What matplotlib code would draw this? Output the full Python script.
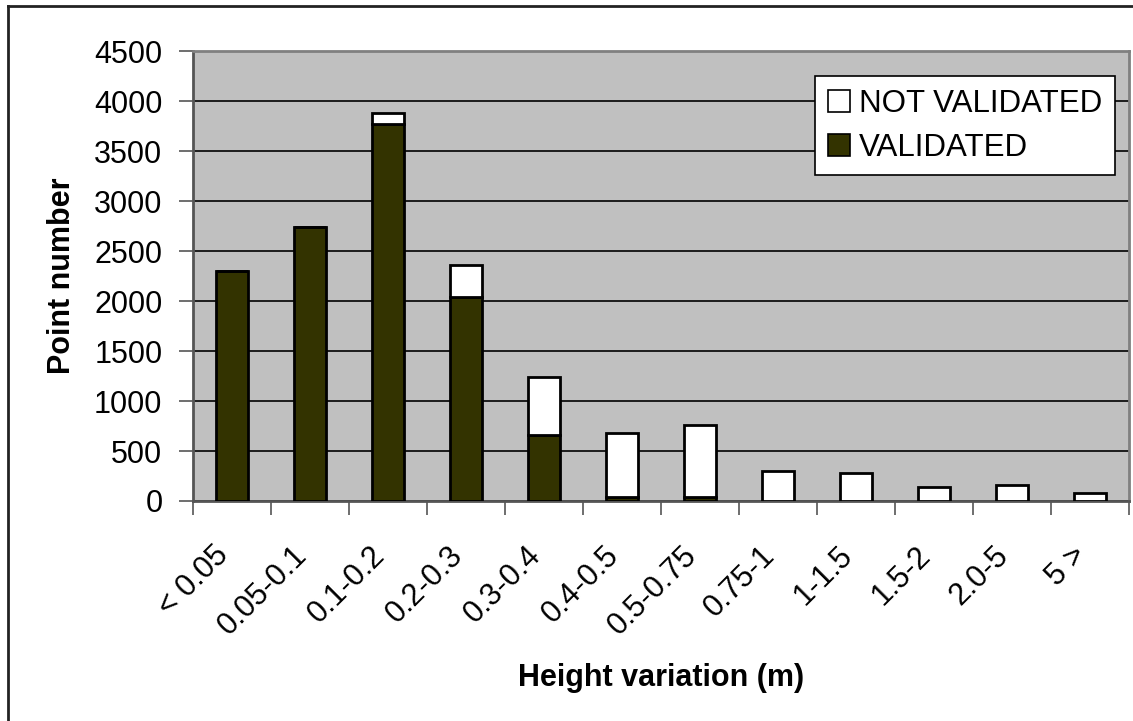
import numpy as np
import matplotlib.pyplot as plt
from matplotlib.lines import Line2D
from matplotlib.transforms import ScaledTranslation

plt.rcParams['font.family'] = ['Liberation Sans', 'DejaVu Sans']

categories = ['< 0.05', '0.05-0.1', '0.1-0.2', '0.2-0.3', '0.3-0.4', '0.4-0.5',
              '0.5-0.75', '0.75-1', '1-1.5', '1.5-2', '2.0-5', '5 >']
validated = [2300, 2740, 3775, 2040, 660, 40, 40, 0, 0, 0, 0, 0]
not_validated = [0, 0, 105, 320, 580, 640, 720, 300, 280, 140, 160, 80]
y_ticks = [0, 500, 1000, 1500, 2000, 2500, 3000, 3500, 4000, 4500]

fig = plt.figure(figsize=(11.33, 7.21), dpi=100)
ax = fig.add_axes([193 / 1133, 1 - 501 / 721, 936 / 1133, 450 / 721])
ax.set_facecolor('#c0c0c0')

x = np.arange(len(categories))
ax.bar(x, validated, width=0.42, color='#333300', edgecolor='black', linewidth=2,
       label='VALIDATED', zorder=3)
ax.bar(x, not_validated, width=0.42, bottom=validated, color='white', edgecolor='black',
       linewidth=2, label='NOT VALIDATED', zorder=3)

ax.set_xlim(-0.5, len(categories) - 0.5)
ax.set_ylim(0, 4500)
ax.set_yticks(y_ticks)
ax.yaxis.grid(True, color='black', linewidth=1.2, zorder=1)
ax.set_axisbelow(True)

# category boundary ticks, labels placed separately
ax.set_xticks(np.arange(len(categories) + 1) - 0.5)
ax.set_xticklabels([])
ax.set_xticks(x, minor=True)
ax.set_xticklabels(categories, minor=True, rotation=45, ha='right', va='center',
                   rotation_mode='anchor', fontsize=22)
ax.tick_params(axis='x', which='minor', length=0, pad=0)
offset = ScaledTranslation(-8 / 100, -50 / 100, fig.dpi_scale_trans)
for lab in ax.get_xticklabels(minor=True):
    lab.set_transform(lab.get_transform() + offset)

ax.tick_params(axis='x', which='major', direction='out', length=10, width=1.2, color='#555555')
ax.tick_params(axis='y', direction='out', length=10, width=1.2, color='#555555',
               labelsize=22, pad=12)

for s in ['top', 'right']:
    ax.spines[s].set_color('#808080')
    ax.spines[s].set_linewidth(2)
ax.spines['left'].set_color('#555555')
ax.spines['left'].set_linewidth(2)
ax.spines['bottom'].set_color('#555555')
ax.spines['bottom'].set_linewidth(2)

ax.set_xlabel('Height variation (m)', fontsize=22, fontweight='bold')
ax.xaxis.set_label_coords(0.5, -0.36)
ax.set_ylabel('Point number', fontsize=22, fontweight='bold')
ax.yaxis.set_label_coords(-0.124, 0.5)

handles, labels = ax.get_legend_handles_labels()
leg = ax.legend(handles[::-1], labels[::-1], loc='upper right',
                bbox_to_anchor=(0.985, 0.944), borderaxespad=0, fontsize=22.5,
                fancybox=False, edgecolor='black', framealpha=1,
                handlelength=0.7, handleheight=0.7, handletextpad=0.3,
                labelspacing=0.45, borderpad=0.4)
leg.get_frame().set_linewidth(1.2)
for p in leg.get_patches():
    p.set_linewidth(1.2)

# outer chart border
fig.add_artist(Line2D([8 / 1133, 8 / 1133], [0, 1 - 6 / 721], transform=fig.transFigure,
                      color='#222222', linewidth=2))
fig.add_artist(Line2D([8 / 1133, 1], [1 - 6 / 721, 1 - 6 / 721], transform=fig.transFigure,
                      color='#222222', linewidth=2))

fig.savefig('out.png', dpi=100)
